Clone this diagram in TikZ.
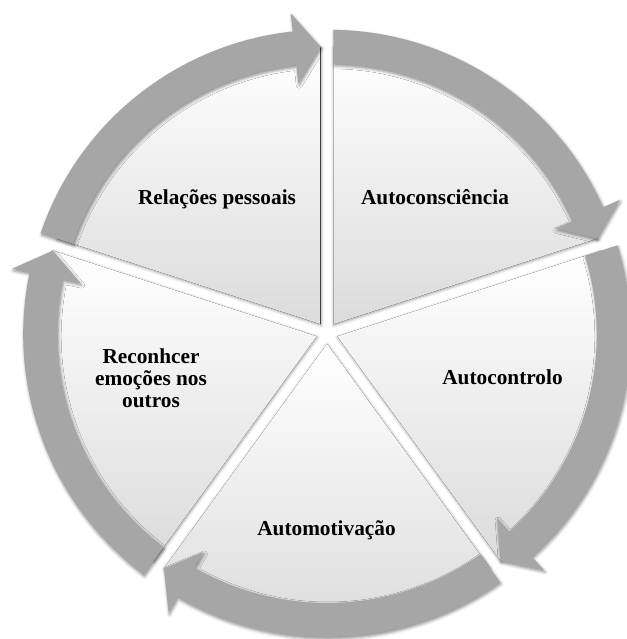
\documentclass[tikz,border=0pt]{standalone}
\usepackage{fontspec}
\setmainfont{Liberation Serif}
\usetikzlibrary{shadows.blur}
\begin{document}
\begin{tikzpicture}[x=1pt,y=1pt,
  wedgestyle/.style={top color=white, bottom color=black!14, draw=none,
    blur shadow={shadow xshift=0.5pt,shadow yshift=-1pt,shadow blur radius=3pt,shadow opacity=40}},
  arrowstyle/.style={fill=black!35, draw=none,
    blur shadow={shadow xshift=1pt,shadow yshift=-2pt,shadow blur radius=3pt,shadow opacity=45}},
  lbl/.style={font=\fontsize{21.3}{21.8}\selectfont\bfseries, align=center, inner sep=0pt}]
\useasboundingbox (0,0) rectangle (626,639);
\coordinate (O) at (327,306);
\def\g{4}
\def\dd{4}
\def\Rw{283}
\def\Ri{266}
\def\Ro{300}
\def\Rm{283}
\def\Rhi{248}
\def\Rho{318}
% wedges
\foreach \a in {18,-54,-126,162,90} {
  \begin{scope}[shift={(O)}]
  \begin{scope}[shift={({\a+36}:\dd)}]
    \pgfmathsetmacro{\wa}{\a+asin(\g/\Rw)}
    \pgfmathsetmacro{\wb}{\a+72-asin(\g/\Rw)}
    \pgfmathsetmacro{\ap}{\g/sin(36)}
    \fill[wedgestyle] ({\a+36}:\ap) -- (\wa:\Rw) arc[start angle=\wa, end angle=\wb, radius=\Rw] -- cycle;
  \end{scope}
  \end{scope}
}
% arrows
\foreach \a in {18,-54,-126,162,90} {
  \begin{scope}[shift={(O)}]
  \begin{scope}[shift={({\a+36}:\dd)}]
    \pgfmathsetmacro{\tao}{\a+72-asin(\g/\Ro)}
    \pgfmathsetmacro{\tai}{\a+72-asin(\g/\Ri)}
    \pgfmathsetmacro{\tip}{\a+asin(\g/\Rm)}
    \pgfmathsetmacro{\hb}{\tip+5.3}
    \fill[arrowstyle] (\tao:\Ro) arc[start angle=\tao, end angle=\hb, radius=\Ro]
      -- (\hb:\Rho) -- (\tip:\Rm) -- (\hb:\Rhi) -- (\hb:\Ri)
      arc[start angle=\hb, end angle=\tai, radius=\Ri] -- cycle;
  \end{scope}
  \end{scope}
}
\node[lbl, anchor=base] (t1) at (217,434) {Relações pessoais};
\node[lbl, anchor=base] (t2) at (435,434) {Autoconsciência};
\node[lbl, anchor=base] (t3) at (502.5,254) {Autocontrolo};
\node[lbl, anchor=base] (t4) at (326.5,103) {Automotivação};
\node[lbl, anchor=center] (t5) at (151,261) {Reconhcer\\emoções nos\\outros};
\end{tikzpicture}
\end{document}
